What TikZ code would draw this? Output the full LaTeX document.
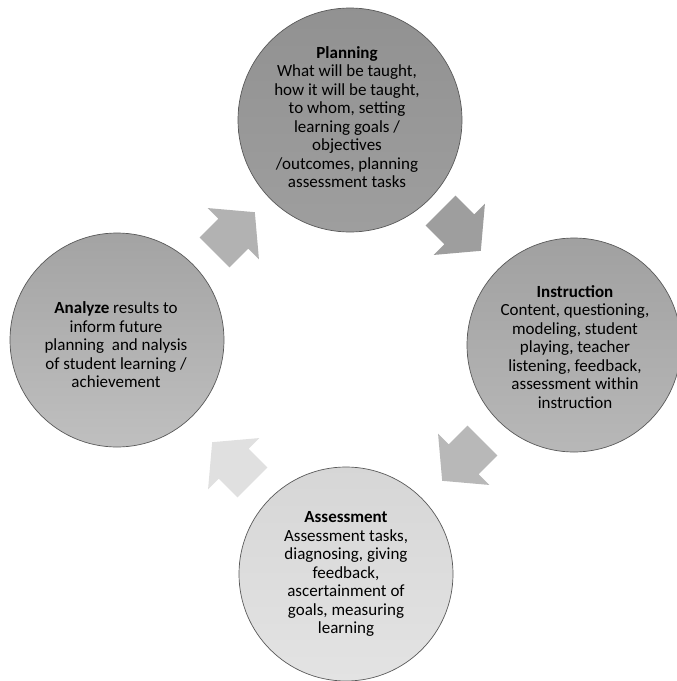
\documentclass[tikz,border=0pt]{standalone}
\usepackage{fontspec}
\setmainfont{Carlito}
\usepackage{tikz}
\usepackage{xcolor}
\usetikzlibrary{shapes.arrows}

\definecolor{planTop}{gray}{0.57}
\definecolor{planBot}{gray}{0.62}
\definecolor{instrTop}{gray}{0.63}
\definecolor{instrBot}{gray}{0.72}
\definecolor{assessTop}{gray}{0.84}
\definecolor{assessBot}{gray}{0.89}
\definecolor{analyzeTop}{gray}{0.64}
\definecolor{analyzeBot}{gray}{0.75}

\begin{document}
\begin{tikzpicture}[x=1pt, y=-1pt,
  phase/.style={circle, draw=black!65, line width=0.7pt, inner sep=0pt},
  phasetext/.style={align=center, font=\fontsize{17}{18.5}\selectfont, text=black},
  turn/.style={single arrow, draw=none, inner xsep=0pt, inner ysep=21pt,
    minimum height=57, minimum width=72, single arrow head extend=15,
    single arrow tip angle=100, anchor=tip}]
  \useasboundingbox (0,0) rectangle (677,681);
  \fill[white] (0,0) rectangle (677,681);

  % the four phases of the cycle
  \node[phase, minimum size=224, top color=planTop, bottom color=planBot]       (plan)    at (350,120) {};
  \node[phase, minimum size=214, top color=instrTop, bottom color=instrBot]     (instr)   at (574,345) {};
  \node[phase, minimum size=214, top color=assessTop, bottom color=assessBot]   (assess)  at (346,574) {};
  \node[phase, minimum size=214, top color=analyzeTop, bottom color=analyzeBot] (analyze) at (117,340) {};

  \node[phasetext] (plan-text) at (347,117)
    {\textbf{Planning}\\What will be taught,\\how it will be taught,\\to whom, setting\\learning goals /\\objectives\\/outcomes, planning\\assessment tasks};
  \node[phasetext] (instr-text) at (575,347)
    {\textbf{Instruction}\\Content, questioning,\\modeling, student\\playing, teacher\\listening, feedback,\\assessment within\\instruction};
  \node[phasetext] (assess-text) at (346,574)
    {\textbf{Assessment}\\Assessment tasks,\\diagnosing, giving\\feedback,\\ascertainment of\\goals, measuring\\learning};
  \node[phasetext] (analyze-text) at (116,345)
    {\textbf{Analyze} results to\\inform future\\planning\ \ and nalysis\\of student learning /\\achievement};

  % block arrows between the phases
  \node[turn, fill=black!38, rotate=-45]  (plan-instr)     at (481,251) {};
  \node[turn, fill=black!28, rotate=-135] (instr-assess)   at (442,481) {};
  \node[turn, fill=black!12, rotate=135]  (assess-analyze) at (212,442) {};
  \node[turn, fill=black!30, rotate=45]   (analyze-plan)   at (255,212) {};
\end{tikzpicture}
\end{document}
